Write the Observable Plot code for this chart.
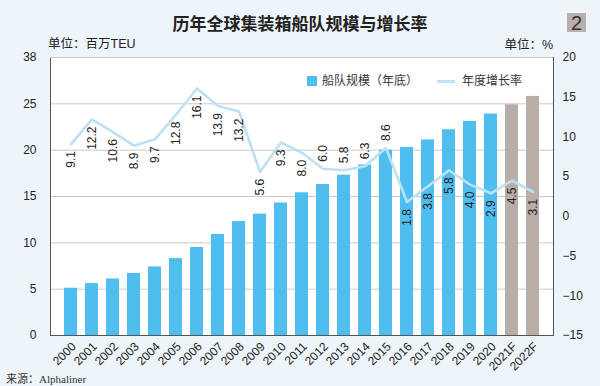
<!DOCTYPE html>
<html><head><meta charset="utf-8">
<script src="https://cdn.jsdelivr.net/npm/d3@7"></script>
<script src="https://cdn.jsdelivr.net/npm/@observablehq/plot@0.6"></script>
<style>
body{margin:0;background:#eef5fa;}
#wrap{position:relative;width:600px;height:386px;overflow:hidden;font-family:"Liberation Sans","Noto Sans CJK SC",sans-serif;color:#333;}
#chart{position:absolute;left:0;top:0;}
.abs{position:absolute;white-space:nowrap;}
</style></head><body>
<div id="wrap">
  <div id="chart"></div>
  <div class="abs" style="left:0;width:600px;top:12px;line-height:22px;text-align:center;font-size:17px;font-weight:bold;color:#222;font-family:'Noto Sans CJK SC',sans-serif;">历年全球集装箱船队规模与增长率</div>
  <div class="abs" style="left:567px;top:13px;width:19px;height:19px;background:#b9b0ab;color:#333;font-size:20px;line-height:20px;text-align:center;">2</div>
  <div class="abs" style="left:48px;top:36px;line-height:16px;font-size:12.5px;color:#222;">单位：百万TEU</div>
  <div class="abs" style="right:47px;top:37px;line-height:16px;font-size:12.5px;color:#222;">单位：%</div>
  <div class="abs" style="left:307px;top:76px;width:10px;height:10px;background:#4fbdee;"></div>
  <div class="abs" style="left:322px;top:73px;line-height:16px;font-size:12px;color:#333;">船队规模（年底）</div>
  <div class="abs" style="left:437px;top:80px;width:18px;height:2.5px;background:#bfe2f4;"></div>
  <div class="abs" style="left:462px;top:73px;line-height:16px;font-size:12px;color:#333;">年度增长率</div>
  <div class="abs" style="left:6px;top:371px;line-height:16px;font-size:11px;color:#333;font-family:'Liberation Serif','Noto Sans CJK SC',serif;">来源：Alphaliner</div>
</div>
<script>
const years = ["2000","2001","2002","2003","2004","2005","2006","2007","2008","2009","2010","2011","2012","2013","2014","2015","2016","2017","2018","2019","2020","2021F","2022F"];
const fleet = [5.1,5.6,6.1,6.7,7.4,8.3,9.5,10.9,12.3,13.1,14.3,15.4,16.3,17.3,18.4,20.0,20.3,21.1,22.2,23.1,23.9,24.9,25.8];
const growth = [9.1,12.2,10.6,8.9,9.7,12.8,16.1,13.9,13.2,5.6,9.3,8.0,6.0,5.8,6.3,8.6,1.8,3.8,5.8,4.0,2.9,4.5,3.1];
const forecastYears = ["2021F","2022F"];
const labelsAboveYears = ["2012","2013","2014","2015"];
const leftTicks = [0,5,10,15,20,25,30];
const leftTickLabels = ["0","5","10","15","20","25","38"];
const rightTicks = [20,15,10,5,0,-5,-10,-15];
const rightTickText = ["20","15","10","5","0","−5","−10","−15"];

const leftDomain = [0,30];
const rightDomain = [-15,20];
const toLeft = r => (r - rightDomain[0]) * (leftDomain[1]-leftDomain[0]) / (rightDomain[1]-rightDomain[0]) + leftDomain[0];

const rows = years.map((y,i)=>({year:y, fleet:fleet[i], growth:growth[i], g:toLeft(growth[i]), forecast:forecastYears.includes(y), above:labelsAboveYears.includes(y)}));
const rightPos = rightTicks.map(toLeft);

const chart = Plot.plot({
  width:600, height:386,
  marginTop:57, marginBottom:51, marginLeft:50, marginRight:47,
  style:{background:"transparent", fontFamily:"'Liberation Sans','Noto Sans CJK SC',sans-serif", fontSize:"12px", color:"#222"},
  x:{domain:years, paddingInner:0.39, paddingOuter:0.2, axis:null},
  y:{domain:leftDomain, axis:null},
  marks:[
    Plot.frame({fill:"white", stroke:null}),
    Plot.gridY(leftTicks.filter(d=>d>0 && d<30), {stroke:"#c9c9c9", strokeOpacity:1}),
    Plot.barY(rows, {x:"year", y:"fleet", fill:d=>d.forecast?"#b9ada7":"#4fbdee"}),
    Plot.line(rows, {x:"year", y:"g", stroke:"#bde0f3", strokeWidth:2.6, strokeLinejoin:"round"}),
    Plot.text(rows.filter(d=>!d.above), {x:"year", y:"g", text:d=>d.growth.toFixed(1), rotate:-90, textAnchor:"end", dy:7, fill:"#222", fontSize:12}),
    Plot.text(rows.filter(d=>d.above), {x:"year", y:"g", text:d=>d.growth.toFixed(1), rotate:-90, textAnchor:"start", dy:-7, fill:"#222", fontSize:12}),
    Plot.frame({stroke:"#555"}),
    Plot.ruleY([30], {stroke:"#c9c9c9"}),
    Plot.axisY(leftTicks, {anchor:"left", tickSize:0, tickPadding:14, tickFormat:d=>leftTickLabels[leftTicks.indexOf(d)], fontSize:12, label:null}),
    Plot.axisY(rightPos, {anchor:"right", tickSize:0, tickPadding:9, tickFormat:d=>rightTickText[rightPos.indexOf(d)], fontSize:12, label:null}),
    Plot.axisX(years, {anchor:"bottom", tickSize:0, tickPadding:9, dx:3, tickRotate:-45, fontSize:12, label:null})
  ]
});
document.getElementById("chart").appendChild(chart);
</script>
</body></html>
